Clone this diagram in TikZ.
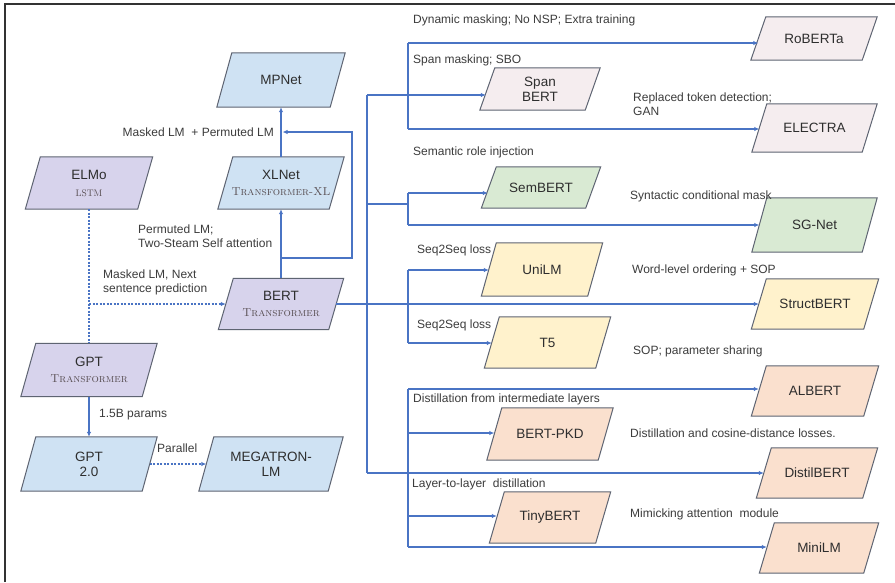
\documentclass[tikz,border=0pt]{standalone}
\usepackage{fontspec}
\newfontfamily\labfont{Liberation Sans}
\usetikzlibrary{arrows.meta}

\definecolor{fblue}{HTML}{CFE2F3}
\definecolor{fpurple}{HTML}{D7D3EC}
\definecolor{fpink}{HTML}{F5EDEF}
\definecolor{fgreen}{HTML}{D9EAD3}
\definecolor{fyellow}{HTML}{FFF2CC}
\definecolor{fpeach}{HTML}{FAE0CE}
\definecolor{edge}{HTML}{5E6472}
\definecolor{wire}{HTML}{4A74C4}
\definecolor{ink}{HTML}{2E2E2E}
\definecolor{labink}{HTML}{3C3C3C}
\definecolor{subink}{HTML}{584E52}

\pgfdeclarelayer{background}
\pgfsetlayers{background,main}

% small-caps architecture name under a model name
\newcommand\archname[1]{{\rmfamily\scshape\fontsize{11.5}{12}\selectfont\color{subink}#1}}
% plain capitals in the same face, for short acronyms
\newcommand\archcaps[1]{{\rmfamily\fontsize{9.5}{12}\selectfont\color{subink}#1}}
% slanted box behind a named node: bottom edge pushed left, top edge pushed right
\newcommand\slantbox[2]{%
  \path[fill=#2, draw=edge, line width=1pt]
    ([xshift=-7.5pt]#1.south west) -- ([xshift=-7.5pt]#1.south east)
    -- ([xshift=7.5pt]#1.north east) -- ([xshift=7.5pt]#1.north west) -- cycle;}

\begin{document}
\begin{tikzpicture}[x=1pt,y=-1pt,
  model/.style={rectangle, inner sep=2pt, align=center, text=ink,
    font=\labfont\fontsize{13.5}{15}\selectfont},
  link/.style={draw=wire, line width=1.1pt},
  arr/.style={link, -{Latex[length=5pt,width=4.5pt]}},
  dlink/.style={link, dash pattern=on 2pt off 1.5pt},
  darr/.style={arr, dash pattern=on 2pt off 1.5pt},
  lbl/.style={font=\labfont\fontsize{12}{14}\selectfont, text=labink,
    inner sep=0pt, align=left, anchor=west},
  frame/.style={draw=black!80, line width=2pt}
]
\useasboundingbox (0,0) rectangle (895,582);
\begin{pgfonlayer}{background}
  \fill[white] (0,0) rectangle (895,582);
\end{pgfonlayer}
\draw[frame] (5,582) -- (5,4) -- (895,4);

% ---- left family: ELMo / GPT / BERT / XLNet ----
\node[model, minimum width=113pt, minimum height=54pt] (MPNet) at (281,80) {MPNet};
\node[model, minimum width=111pt, minimum height=52pt] (XLNet) at (281,183)
  {XLNet\\[1pt]\archname{Transformer-XL}};
\node[model, minimum width=112pt, minimum height=52pt] (ELMo) at (89,183)
  {ELMo\\[2pt]\archcaps{LSTM}};
\node[model, minimum width=110pt, minimum height=51pt] (BERT) at (281,304)
  {BERT\\[1pt]\archname{Transformer}};
\node[model, minimum width=121pt, minimum height=53pt] (GPT) at (89,370)
  {GPT\\[1pt]\archname{Transformer}};
\node[model, minimum width=121pt, minimum height=54pt] (GPT2) at (89,464) {GPT\\2.0};
\node[model, minimum width=129pt, minimum height=54pt] (MEGA) at (271,464) {MEGATRON-\\LM};

% ---- BERT descendants ----
\node[model, minimum width=111pt, minimum height=43pt] (RoBERTa) at (814,38.5) {RoBERTa};
\node[model, minimum width=105pt, minimum height=42pt] (SpanBERT) at (540,89) {Span\\BERT};
\node[model, minimum width=110pt, minimum height=48pt] (ELECTRA) at (814.5,128) {ELECTRA};
\node[model, minimum width=104pt, minimum height=41pt] (SemBERT) at (541,187.5) {SemBERT};
\node[model, minimum width=110pt, minimum height=54pt] (SGNet) at (814.5,225) {SG-Net};
\node[model, minimum width=106pt, minimum height=53pt] (UniLM) at (542,269.5) {UniLM};
\node[model, minimum width=112pt, minimum height=50pt] (StructBERT) at (815,304) {StructBERT};
\node[model, minimum width=111pt, minimum height=51pt] (T5) at (547.5,342.5) {T5};
\node[model, minimum width=112pt, minimum height=50pt] (ALBERT) at (815,391) {ALBERT};
\node[model, minimum width=111pt, minimum height=52pt] (BERTPKD) at (550,434) {BERT-PKD};
\node[model, minimum width=106pt, minimum height=50pt] (DistilBERT) at (817,473) {DistilBERT};
\node[model, minimum width=106pt, minimum height=51pt] (TinyBERT) at (550,517.5) {TinyBERT};
\node[model, minimum width=104pt, minimum height=50pt] (MiniLM) at (819,548) {MiniLM};

\begin{pgfonlayer}{background}
  \slantbox{MPNet}{fblue}
  \slantbox{XLNet}{fblue}
  \slantbox{ELMo}{fpurple}
  \slantbox{BERT}{fpurple}
  \slantbox{GPT}{fpurple}
  \slantbox{GPT2}{fblue}
  \slantbox{MEGA}{fblue}
  \slantbox{RoBERTa}{fpink}
  \slantbox{SpanBERT}{fpink}
  \slantbox{ELECTRA}{fpink}
  \slantbox{SemBERT}{fgreen}
  \slantbox{SGNet}{fgreen}
  \slantbox{UniLM}{fyellow}
  \slantbox{StructBERT}{fyellow}
  \slantbox{T5}{fyellow}
  \slantbox{ALBERT}{fpeach}
  \slantbox{BERTPKD}{fpeach}
  \slantbox{DistilBERT}{fpeach}
  \slantbox{TinyBERT}{fpeach}
  \slantbox{MiniLM}{fpeach}
\end{pgfonlayer}

% ---- junction points ----
\coordinate (t1) at (367,95);
\coordinate (t2) at (367,204);
\coordinate (t4) at (367,473);
\coordinate (g1a) at (408,43);
\coordinate (g1b) at (408,129);
\coordinate (g2s) at (408,204);
\coordinate (g2a) at (408,193);
\coordinate (g2b) at (408,225);
\coordinate (g3a) at (408,270);
\coordinate (g3b) at (408,343);
\coordinate (g4a) at (408,389);
\coordinate (g4b) at (408,433);
\coordinate (g4c) at (408,516);
\coordinate (g4d) at (408,547);
\coordinate (lp1) at (281,258);
\coordinate (lp2) at (352,132);
\coordinate (lp3) at (282.5,132);
\coordinate (dj) at (89,304);

% ---- trunk out of BERT ----
\draw[link] (t1) -- (t4);
\draw[arr] (BERT) -- (StructBERT);
\draw[arr] (t1) -- ([xshift=-1.5pt]t1 -| SpanBERT.west);
\draw[link] (g1a) -- (g1b);
\draw[arr] (g1a) -- (g1a -| RoBERTa.west);
\draw[arr] (g1b) -- (g1b -| ELECTRA.west);
\draw[link] (t2) -- (g2s);
\draw[link] (g2a) -- (g2b);
\draw[arr] (g2a) -- ([xshift=-1pt]g2a -| SemBERT.west);
\draw[arr] (g2b) -- (g2b -| SGNet.west);
\draw[link] (g3a) -- (g3b);
\draw[arr] (g3a) -- (g3a -| UniLM.west);
\draw[arr] (g3b) -- (g3b -| T5.west);
\draw[arr] (t4) -- (t4 -| DistilBERT.west);
\draw[link] (g4a) -- (g4d);
\draw[arr] (g4a) -- (g4a -| ALBERT.west);
\draw[arr] (g4b) -- (g4b -| BERTPKD.west);
\draw[arr] (g4c) -- (g4c -| TinyBERT.west);
\draw[arr] (g4d) -- (g4d -| MiniLM.west);

% ---- left-hand connectors ----
\draw[arr] (BERT) -- (XLNet);
\draw[arr] (XLNet) -- (MPNet);
\draw[arr] (lp1) -| (lp2) -- (lp3);
\draw[dlink] (ELMo) -- (GPT);
\draw[darr] (dj) -- (BERT);
\draw[arr] (GPT) -- (GPT2);
\draw[darr] (GPT2) -- (MEGA);

% ---- connector labels ----
\node[lbl, anchor=east] (lMP) at (274,132) {Masked LM~ + Permuted LM};
\node[lbl] (lXL) at (138,236) {Permuted LM;\\Two-Steam Self attention};
\node[lbl] (lBE) at (103,282) {Masked LM, Next\\sentence prediction};
\node[lbl] (lG2) at (99,415) {1.5B params};
\node[lbl] (lMG) at (157,448) {Parallel};
\node[lbl] (lRo) at (413,20) {Dynamic masking; No NSP; Extra training};
\node[lbl] (lSp) at (413,60) {Span masking; SBO};
\node[lbl] (lEl) at (633,104) {Replaced token detection;\\GAN};
\node[lbl] (lSe) at (413,152) {Semantic role injection};
\node[lbl] (lSG) at (630,196) {Syntactic conditional mask};
\node[lbl] (lUn) at (417,250) {Seq2Seq loss};
\node[lbl] (lSt) at (632,270) {Word-level ordering + SOP};
\node[lbl] (lT5) at (417,325) {Seq2Seq loss};
\node[lbl] (lAl) at (633,351) {SOP; parameter sharing};
\node[lbl] (lPK) at (413,399) {Distillation from intermediate layers};
\node[lbl] (lDi) at (630,433) {Distillation and cosine-distance losses.};
\node[lbl] (lTi) at (412,484) {Layer-to-layer~ distillation};
\node[lbl] (lMi) at (630,514) {Mimicking attention~ module};
\end{tikzpicture}
\end{document}
